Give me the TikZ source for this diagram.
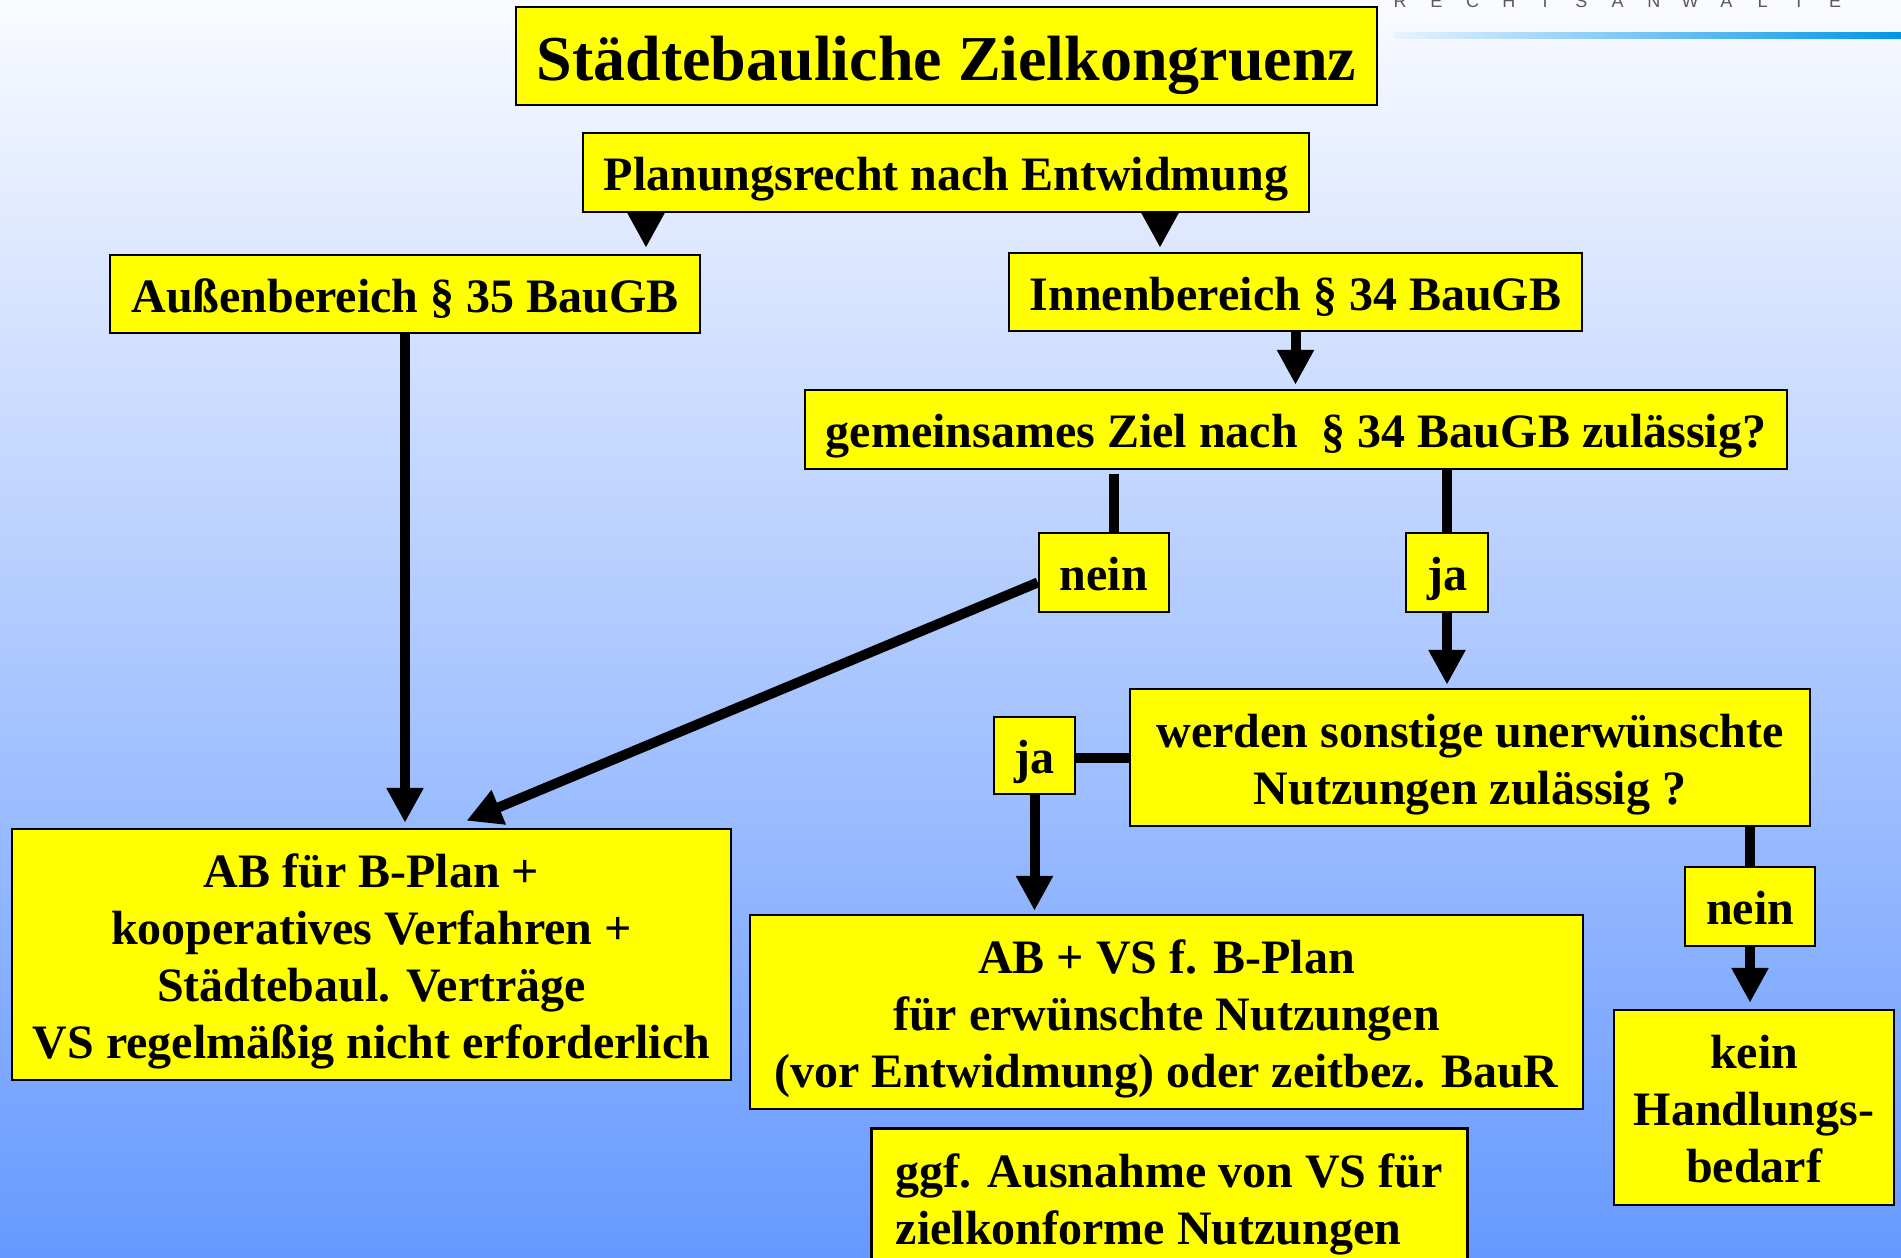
\documentclass[tikz,border=0pt]{standalone}
\usepackage{fontspec}
\setmainfont{Liberation Serif}
\newfontfamily\logofont{Liberation Sans}
\usetikzlibrary{arrows.meta,calc}
\definecolor{bgtop}{RGB}{250,251,255}
\definecolor{bgbot}{RGB}{102,153,255}
\definecolor{boxyellow}{RGB}{255,255,0}
\definecolor{logogray}{RGB}{90,90,90}
\definecolor{lineleft}{RGB}{232,242,255}
\definecolor{lineright}{RGB}{0,150,230}
\newcommand\mytop{\rule{0pt}{1em}}
\newcommand\mybot{\rule[-0.23em]{0pt}{0pt}}
\tikzset{
  box/.style={draw=black, line width=2.5pt, fill=boxyellow, inner sep=0pt, align=center,
    font=\fontsize{48pt}{57pt}\selectfont\bfseries},
  conn/.style={line width=10pt, draw=black, line cap=butt},
  arr/.style={conn, -{Triangle[width=35pt,length=35pt]}},
  logo/.style={font=\logofont\fontsize{18pt}{20pt}\selectfont, text=logogray, inner sep=0pt},
}
\begin{document}
\begin{tikzpicture}[x=1pt,y=-1pt]
\useasboundingbox (0,0) rectangle (1901,1258);
\shade[top color=bgtop, bottom color=bgbot] (0,0) rectangle (1901,1258);

% logo
\foreach \ch [count=\i from 0] in {R,E,C,H,T,S,A,N,W,Ä,L,T,E}
  \node[logo, anchor=base] (logo\i) at (1400+\i*36.25, 8) {\ch};
\shade[left color=lineleft, right color=lineright] (1395,32) rectangle (1901,38);

% boxes
\node[box, minimum width=861pt, minimum height=98pt, font=\fontsize{64pt}{70pt}\selectfont\bfseries] (title) at (946.5,56) {\mytop Städtebauliche Zielkongruenz\mybot};
\node[box, minimum width=726pt, minimum height=79pt] (plan) at (946,172.5) {\mytop Planungsrecht nach Entwidmung\mybot};
\node[box, minimum width=590pt, minimum height=78pt] (aussen) at (405,294) {\mytop Außenbereich § 35 BauGB\mybot};
\node[box, minimum width=573pt, minimum height=78pt] (innen) at (1295.5,292) {\mytop Innenbereich § 34 BauGB\mybot};
\node[box, minimum width=982pt, minimum height=79pt] (gem) at (1296,429.5) {\mytop gemeinsames Ziel nach~ § 34 BauGB zulässig?\mybot};
\node[box, minimum width=130pt, minimum height=79pt] (nein1) at (1104,572.5) {\mytop nein\mybot};
\node[box, minimum width=82pt, minimum height=79pt] (ja1) at (1447,572.5) {\mytop ja\mybot};
\node[box, minimum width=680pt, minimum height=137pt] (werden) at (1470,757.5) {\mytop werden sonstige unerwünschte\\Nutzungen zulässig ?\mybot};
\node[box, minimum width=81pt, minimum height=77pt] (ja2) at (1034.5,755.5) {\mytop ja\mybot};
\node[box, minimum width=130pt, minimum height=79pt] (nein2) at (1750,906.5) {\mytop nein\mybot};
\node[box, minimum width=280pt, minimum height=195pt] (kein) at (1754,1107.5) {\mytop kein\\Handlungs-\\bedarf\mybot};
\node[box, minimum width=719pt, minimum height=251pt] (abl) at (371.5,954.5) {\mytop AB für B-Plan +\\kooperatives Verfahren +\\Städtebaul. Verträge\\VS regelmäßig nicht erforderlich\mybot};
\node[box, minimum width=833pt, minimum height=194pt] (abvs) at (1166.5,1012) {\mytop AB + VS f. B-Plan\\für erwünschte Nutzungen\\(vor Entwidmung) oder zeitbez. BauR\mybot};
\node[box, anchor=north west, align=left, minimum width=596pt, inner xsep=21pt, inner ysep=11pt] (ggf) at (870,1127) {\mytop ggf. Ausnahme von VS für\\zielkonforme Nutzungen\mybot};

% connectors
\coordinate (p1) at ([xshift=-300pt]plan.south);
\coordinate (p2) at ([xshift=214pt]plan.south);
\draw[arr, shorten >=6pt] (p1) -- (p1 |- aussen.north);
\draw[arr, shorten >=4pt] (p2) -- (p2 |- innen.north);
\draw[arr, shorten >=4pt] (innen.south) -- (innen.south |- gem.north);
\draw[arr, shorten >=5pt] (aussen.south) -- (aussen.south |- abl.north);
\coordinate (n1) at ([xshift=10pt]nein1.north);
\draw[conn] ([yshift=-4pt]n1 |- gem.south) -- (n1);
\draw[conn] (ja1.north |- gem.south) -- (ja1.north);
\coordinate (t1) at ([xshift=95pt,yshift=7pt]abl.north);
\draw[arr] ([yshift=-10pt]nein1.west) -- (t1);
\draw[arr, shorten >=3pt] (ja1.south) -- (ja1.south |- werden.north);
\draw[conn] (werden.west) -- (werden.west -| ja2.east);
\draw[arr, shorten >=3pt] (ja2.south) -- (ja2.south |- abvs.north);
\draw[conn] (nein2.north |- werden.south) -- (nein2.north);
\draw[arr, shorten >=6pt] (nein2.south) -- (nein2.south |- kein.north);
\end{tikzpicture}
\end{document}
